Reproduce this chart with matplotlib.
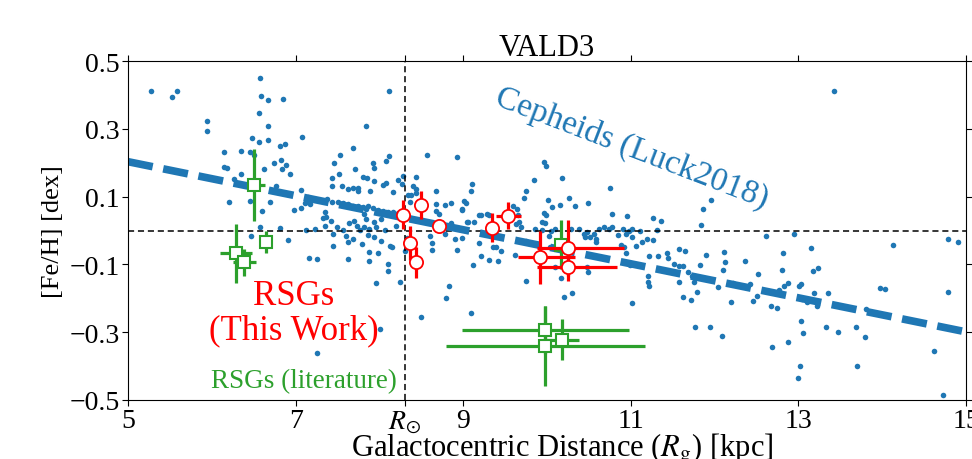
import matplotlib
matplotlib.use("Agg")
import matplotlib.pyplot as plt
import numpy as np

plt.rcParams["font.family"] = ["Liberation Serif", "DejaVu Serif"]
plt.rcParams["mathtext.fontset"] = "stix"

# Cepheids (Luck 2018): galactocentric distance [kpc] and [Fe/H] [dex]
ceph_rg = [
    5.27, 5.53, 5.58, 5.94, 5.94, 6.58, 6.59, 6.67, 6.85, 6.56, 6.67, 6.48, 6.56, 6.67, 6.81,
    6.87, 7.08, 6.15, 6.35, 6.45, 6.50, 6.14, 6.18, 6.74, 6.83, 6.88, 6.84, 6.93, 6.62, 6.35,
    6.27, 6.77, 7.06, 7.11, 7.07, 6.98, 6.20, 6.45, 6.69, 6.60, 6.57, 6.81, 6.47, 6.91,
    7.16, 7.26, 7.62, 7.88, 7.96, 8.10, 8.10, 8.50, 8.01, 7.25, 7.45,
    7.33, 7.42, 7.35, 7.23, 7.64, 7.73, 7.77, 7.82, 7.88, 7.96, 8.07, 8.20, 7.60, 7.68, 7.86,
    7.93, 8.02, 8.13, 8.15, 7.45, 7.62, 7.79, 7.98, 7.88, 8.25, 8.30, 8.33, 8.83, 8.79, 8.60,
    8.63, 8.63, 8.78, 8.90, 8.99, 8.93, 8.85, 7.13, 7.49, 7.56, 7.70, 7.84, 7.94, 8.02,
    8.12, 7.84, 7.68, 7.53, 7.46, 7.71, 7.52, 7.44, 7.92, 7.94, 8.11, 8.08, 7.81, 7.85, 7.94,
    8.04, 8.08, 8.22, 8.28, 8.27, 8.44, 8.57, 8.93, 7.44, 7.55, 7.62, 7.68, 7.74, 7.75, 7.89,
    8.38, 8.34, 8.67, 8.78, 8.85, 9.01, 8.99, 8.67, 8.67, 8.71, 7.35, 7.36, 7.84, 7.82, 8.36,
    8.08, 8.44, 8.44, 8.40, 8.16,
    7.15, 7.21, 7.27, 7.33, 7.38, 7.44, 7.50, 7.56, 7.62, 7.68, 7.74, 7.80, 7.86, 7.92, 7.98,
    8.04, 8.10, 8.16, 8.22, 7.12, 7.17,
    9.96, 9.99, 10.18, 9.85, 9.10, 9.09, 9.75, 9.72, 10.75, 10.01, 10.26, 10.16, 10.06, 10.33,
    10.49, 9.03, 9.60, 9.64, 9.21, 9.31, 9.96, 9.99, 10.77, 10.96, 9.65,
    9.04, 9.13, 9.66, 9.69, 9.94, 10.10, 10.29, 10.38, 10.45, 10.51, 10.56, 10.59, 10.59, 10.62,
    10.68, 10.77, 10.85, 10.91, 10.98, 10.92, 10.94, 10.99, 11.02, 9.19, 9.35, 9.39, 9.45, 9.21,
    9.31, 9.12, 9.41, 9.62, 9.75, 10.02, 10.04, 10.10, 10.17, 10.48, 10.49, 9.75, 10.20, 10.30,
    9.09,
    11.26, 11.02, 11.11, 11.19, 11.06, 10.94, 10.88, 11.33, 11.21, 11.22, 8.98, 9.06, 9.19, 9.28,
    9.63, 9.86, 9.94, 9.98, 10.05, 10.44, 10.48, 10.74,
    11.96, 11.86, 11.84, 11.36, 11.31, 11.01, 11.13, 11.27, 11.22, 12.61, 12.95, 11.58, 11.65,
    11.43, 11.44, 11.90, 12.11, 12.12, 12.10, 12.36, 12.82, 12.80, 11.83, 11.52, 11.57, 11.62,
    11.68, 11.73, 11.77, 11.20, 11.58, 11.75, 12.04, 11.79, 12.22, 12.52, 12.42, 12.51, 12.46,
    12.88, 12.83, 12.67, 12.74, 11.62, 11.72, 12.19, 11.77, 11.94, 12.09, 12.69, 12.87,
    13.15, 14.13, 14.79, 14.91, 13.01, 13.03, 13.17, 13.23, 13.19, 13.22, 13.35, 13.04, 13.10,
    13.03, 13.05, 13.33, 13.47, 13.69, 13.79, 13.70, 13.81, 13.97, 14.03, 14.78, 14.62, 14.73,
    12.99, 13.02, 13.42, 12.77,
]
ceph_feh = [
    0.411, 0.394, 0.412, 0.323, 0.293, 0.450, 0.398, 0.384, 0.387, 0.346, 0.309, 0.272, 0.262, 0.268, 0.250,
    0.255, 0.277, 0.231, 0.235, 0.232, 0.224, 0.188, 0.184, 0.199, 0.207, 0.192, 0.182, 0.167, 0.180, 0.166,
    0.152, 0.132, 0.119, 0.082, 0.067, 0.061, 0.085, 0.087, 0.084, 0.057, 0.009, 0.008, -0.017, -0.028,
    -0.080, -0.083, -0.085, -0.064, -0.155, -0.099, -0.119, -0.254, -0.291, -0.361, -0.010,
    0.037, 0.029, 0.014, 0.004, 0.021, 0.014, 0.001, 0.011, 0.004, 0.011, 0.001, 0.014, -0.015, -0.025, -0.012,
    -0.020, -0.030, -0.045, -0.050, -0.047, -0.035, -0.040, -0.067, -0.089, -0.153, -0.061, -0.022, -0.165, -0.200, -0.015,
    -0.038, -0.057, -0.010, -0.025, -0.023, -0.058, 0.021, 0.001, 0.011, 0.002, 0.027, 0.034, 0.024, 0.034,
    0.412, 0.307, 0.244, 0.223, 0.198, 0.181, 0.167, 0.154, 0.199, 0.183, 0.219, 0.206, 0.157, 0.154, 0.145,
    0.134, 0.139, 0.149, 0.160, 0.137, 0.157, 0.223, 0.216, 0.130, 0.130, 0.122, 0.126, 0.124, 0.116, 0.117,
    0.105, 0.105, 0.117, 0.075, 0.080, 0.088, 0.063, 0.078, 0.058, 0.049, 0.054, 0.039, 0.063, 0.049, 0.083,
    0.054, 0.122, 0.111, 0.132, 0.114,
    0.098, 0.093, 0.091, 0.088, 0.093, 0.085, 0.083, 0.081, 0.078, 0.073, 0.071, 0.068, 0.073, 0.065, 0.061,
    0.058, 0.055, 0.054, 0.052, 0.083, 0.078,
    0.203, 0.191, 0.155, 0.150, 0.138, 0.116, 0.117, 0.095, 0.125, 0.090, 0.096, 0.076, 0.069, 0.073,
    0.082, 0.081, 0.073, 0.063, 0.046, 0.046, 0.051, 0.046, 0.048, 0.044, 0.046,
    0.024, 0.024, 0.024, 0.011, 0.001, 0.003, 0.003, 0.004, -0.018, -0.018, -0.010, -0.025, -0.035, 0.004,
    0.011, 0.011, -0.012, 0.004, -0.002, -0.050, -0.067, -0.101, -0.215, -0.038, -0.050, -0.050, -0.061, -0.076,
    -0.086, -0.101, -0.091, -0.071, -0.030, -0.017, -0.050, -0.109, -0.140, -0.109, -0.123, -0.148, -0.197, -0.184,
    -0.244,
    0.036, 0.004, 0.000, -0.025, -0.047, -0.010, -0.042, -0.074, -0.151, -0.165, 0.061, 0.026, 0.047, 0.049,
    0.019, 0.004, 0.024, 0.021, 0.000, -0.010, -0.005, 0.004,
    0.091, 0.063, 0.016, 0.028, 0.001, -0.020, -0.033, -0.028, -0.074, -0.017, -0.011, -0.055, -0.061,
    -0.067, -0.080, -0.072, -0.063, -0.094, -0.116, -0.091, -0.067, -0.116, -0.101, -0.099, -0.106, -0.104,
    -0.123, -0.135, -0.133, -0.135, -0.151, -0.151, -0.168, -0.180, -0.155, -0.128, -0.158, -0.192, -0.207,
    -0.155, -0.165, -0.222, -0.228, -0.195, -0.204, -0.212, -0.286, -0.284, -0.312, -0.344, -0.328,
    -0.053, -0.043, -0.025, -0.035, -0.165, -0.158, -0.119, -0.111, -0.185, -0.222, -0.185, -0.202, -0.210,
    -0.266, -0.303, -0.284, -0.300, -0.284, -0.313, -0.401, -0.232, -0.171, -0.173, -0.180, -0.355, -0.484,
    -0.436, -0.401, 0.412, -0.175,
]

# Cepheid radial gradient (linear fit)
grad_rg = [5.0, 15.0]
grad_feh = [0.203, -0.299]

# Red supergiants, this work
rsg_rg = [8.28, 8.50, 8.37, 8.44, 8.71, 9.34, 9.54, 9.92, 10.245, 10.245]
rsg_feh = [0.047, 0.075, -0.038, -0.094, 0.012, 0.008, 0.044, -0.079, -0.052, -0.109]
rsg_feh_err = [0.042, 0.042, 0.050, 0.045, 0.015, 0.043, 0.040, 0.079, 0.083, 0.040]
rsg_rg_err_lo = [0.03, 0.03, 0.03, 0.03, 0.03, 0.05, 0.15, 0.27, 0.37, 0.37]
rsg_rg_err_hi = [0.03, 0.03, 0.03, 0.03, 0.03, 0.05, 0.15, 0.42, 0.67, 0.59]

# Red supergiants from the literature
lit_rg = [6.50, 6.29, 6.39, 6.65, 10.17, 9.98, 9.98, 10.18]
lit_feh = [0.134, -0.067, -0.094, -0.033, -0.042, -0.293, -0.340, -0.322]
lit_feh_err = [0.105, 0.087, 0.040, 0.032, 0.073, 0.071, 0.118, 0.060]
lit_rg_err_lo = [0.05, 0.19, 0.14, 0.04, 0.04, 1.00, 1.19, 0.20]
lit_rg_err_hi = [0.14, 0.19, 0.14, 0.04, 0.04, 1.00, 1.19, 0.20]

R_SUN = 8.3
x_ticks = [5, 7, R_SUN, 9, 11, 13, 15]
x_ticklabels = ["5", "7", r"$R_{\odot}$", "9", "11", "13", "15"]
y_ticks = [0.5, 0.3, 0.1, -0.1, -0.3, -0.5]
y_ticklabels = ["0.5", "0.3", "0.1", "\u22120.1", "\u22120.3", "\u22120.5"]

blue = "#1f77b4"
green = "#2ca02c"
red = "#ff0000"

fig = plt.figure(figsize=(9.72, 4.6), dpi=100)
ax = fig.add_axes([128 / 972, 59 / 460, (966 - 128) / 972, (401 - 62) / 460])

ax.scatter(ceph_rg, ceph_feh, s=16, color=blue, linewidths=0, zorder=1)

ax.axhline(0.0, color="black", lw=1.1, ls=(0, (4, 2.5)), zorder=1.5)
ax.axvline(R_SUN, color="black", lw=1.1, ls=(0, (4, 2.5)), zorder=1.5)

ax.plot(grad_rg, grad_feh, color=blue, lw=5.5, ls=(0, (3.3, 1.4)), zorder=2,
        solid_capstyle="butt", dash_capstyle="butt")

ax.errorbar(lit_rg, lit_feh, yerr=lit_feh_err, xerr=[lit_rg_err_lo, lit_rg_err_hi],
            fmt="s", ms=9, mfc="white", mec=green, mew=1.5, ecolor=green,
            elinewidth=2.3, capsize=0, zorder=3)
ax.errorbar(rsg_rg, rsg_feh, yerr=rsg_feh_err, xerr=[rsg_rg_err_lo, rsg_rg_err_hi],
            fmt="o", ms=9.5, mfc="white", mec=red, mew=1.3, ecolor=red,
            elinewidth=2.3, capsize=0, zorder=4)

ax.text(11.01, 0.246, "Cepheids (Luck2018)", color=blue, fontsize=24,
        rotation=-21, ha="center", va="center", rotation_mode="anchor", zorder=5)
ax.text(6.98, -0.243, "RSGs\n(This Work)", color=red, fontsize=25,
        ha="center", va="center", linespacing=1.05, zorder=5)
ax.text(7.10, -0.443, "RSGs (literature)", color=green, fontsize=19.5,
        ha="center", va="center", zorder=5)

ax.set_xlim(5, 15)
ax.set_ylim(-0.5, 0.5)
ax.set_xticks(x_ticks)
ax.set_xticklabels(x_ticklabels)
ax.set_yticks(y_ticks)
ax.set_yticklabels(y_ticklabels)
ax.tick_params(axis="both", labelsize=20, direction="out", length=4,
               top=True, right=True, pad=2)

ax.set_title("VALD3", fontsize=22, pad=4)
ax.set_xlabel(r"Galactocentric Distance ($R_{\rm g}$) [kpc]", fontsize=22)
ax.xaxis.set_label_coords(0.518, -0.092, transform=ax.transAxes)
ax.xaxis.label.set_va("top")
ax.set_ylabel("[Fe/H] [dex]", fontsize=19, labelpad=4)

fig.savefig("out.png", dpi=100)
